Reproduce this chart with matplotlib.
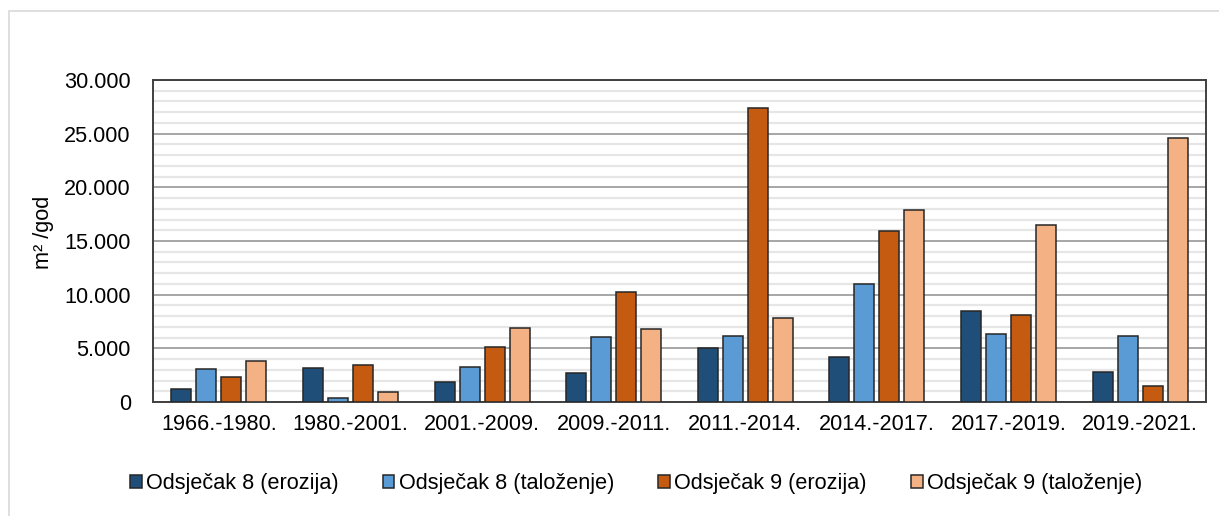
import matplotlib.pyplot as plt
import matplotlib.patches as patches
from matplotlib.ticker import MultipleLocator, FuncFormatter
import numpy as np

plt.rcParams['font.family'] = ['Liberation Sans', 'DejaVu Sans']

periods = ['1966.-1980.', '1980.-2001.', '2001.-2009.', '2009.-2011.',
           '2011.-2014.', '2014.-2017.', '2017.-2019.', '2019.-2021.']
ods8_erozija = [1180, 3170, 1890, 2730, 5000, 4220, 8480, 2830]
ods8_talozenje = [3100, 400, 3230, 6030, 6120, 11000, 6370, 6120]
ods9_erozija = [2300, 3450, 5100, 10280, 27430, 15970, 8110, 1490]
ods9_talozenje = [3850, 900, 6900, 6830, 7860, 17900, 16530, 24640]

series = [
    ('Odsječak 8 (erozija)', ods8_erozija, '#1F4E79'),
    ('Odsječak 8 (taloženje)', ods8_talozenje, '#5B9BD5'),
    ('Odsječak 9 (erozija)', ods9_erozija, '#C55A11'),
    ('Odsječak 9 (taloženje)', ods9_talozenje, '#F4B183'),
]

W, H = 1219, 516
fs = 15.6
fig = plt.figure(figsize=(W / 100, H / 100), dpi=100)
ax = fig.add_axes([153 / W, 1 - 402 / H, (1206 - 153) / W, (402 - 80) / H])

# light frame around the whole chart
fig.patches.append(patches.Rectangle((9 / W, -0.1), 1.2, 1.1 - 11 / H,
                                     transform=fig.transFigure, fill=False,
                                     edgecolor='#D9D9D9', linewidth=1.2))

x = np.arange(len(periods))
step = 0.19
width = 0.152
for k, (name, vals, col) in enumerate(series):
    ax.bar(x + (k - 1.5) * step, vals, width, color=col, edgecolor='#262626',
           linewidth=1.1, label=name, zorder=3)

ax.set_xlim(-0.5, len(periods) - 0.5)
ax.set_ylim(0, 30000)
ax.yaxis.set_major_locator(MultipleLocator(5000))
ax.yaxis.set_minor_locator(MultipleLocator(1000))
ax.yaxis.set_major_formatter(FuncFormatter(lambda v, p: f'{int(v):,}'.replace(',', '.')))
ax.grid(axis='y', which='minor', color='#E6E6E6', linewidth=1.6, zorder=0)
ax.grid(axis='y', which='major', color='#A6A6A6', linewidth=1.4, zorder=1)
ax.set_xticks(x)
ax.set_xticklabels(periods)
ax.tick_params(axis='both', which='both', length=0, labelsize=fs, colors='#000000')
ax.tick_params(axis='x', pad=9)
ax.tick_params(axis='y', pad=16)
for s in ax.spines.values():
    s.set_color('#404040')
    s.set_linewidth(1.4)

fig.text(43 / W, 1 - 232 / H, 'm² /god', rotation=90, fontsize=fs,
         ha='center', va='center')

fig.legend(loc='center', bbox_to_anchor=(636 / W, 1 - 484 / H), ncol=4,
           frameon=False, fontsize=fs, handlelength=0.55, handleheight=0.55,
           handletextpad=0.2, columnspacing=2.03)

fig.savefig('out.png', dpi=100)
